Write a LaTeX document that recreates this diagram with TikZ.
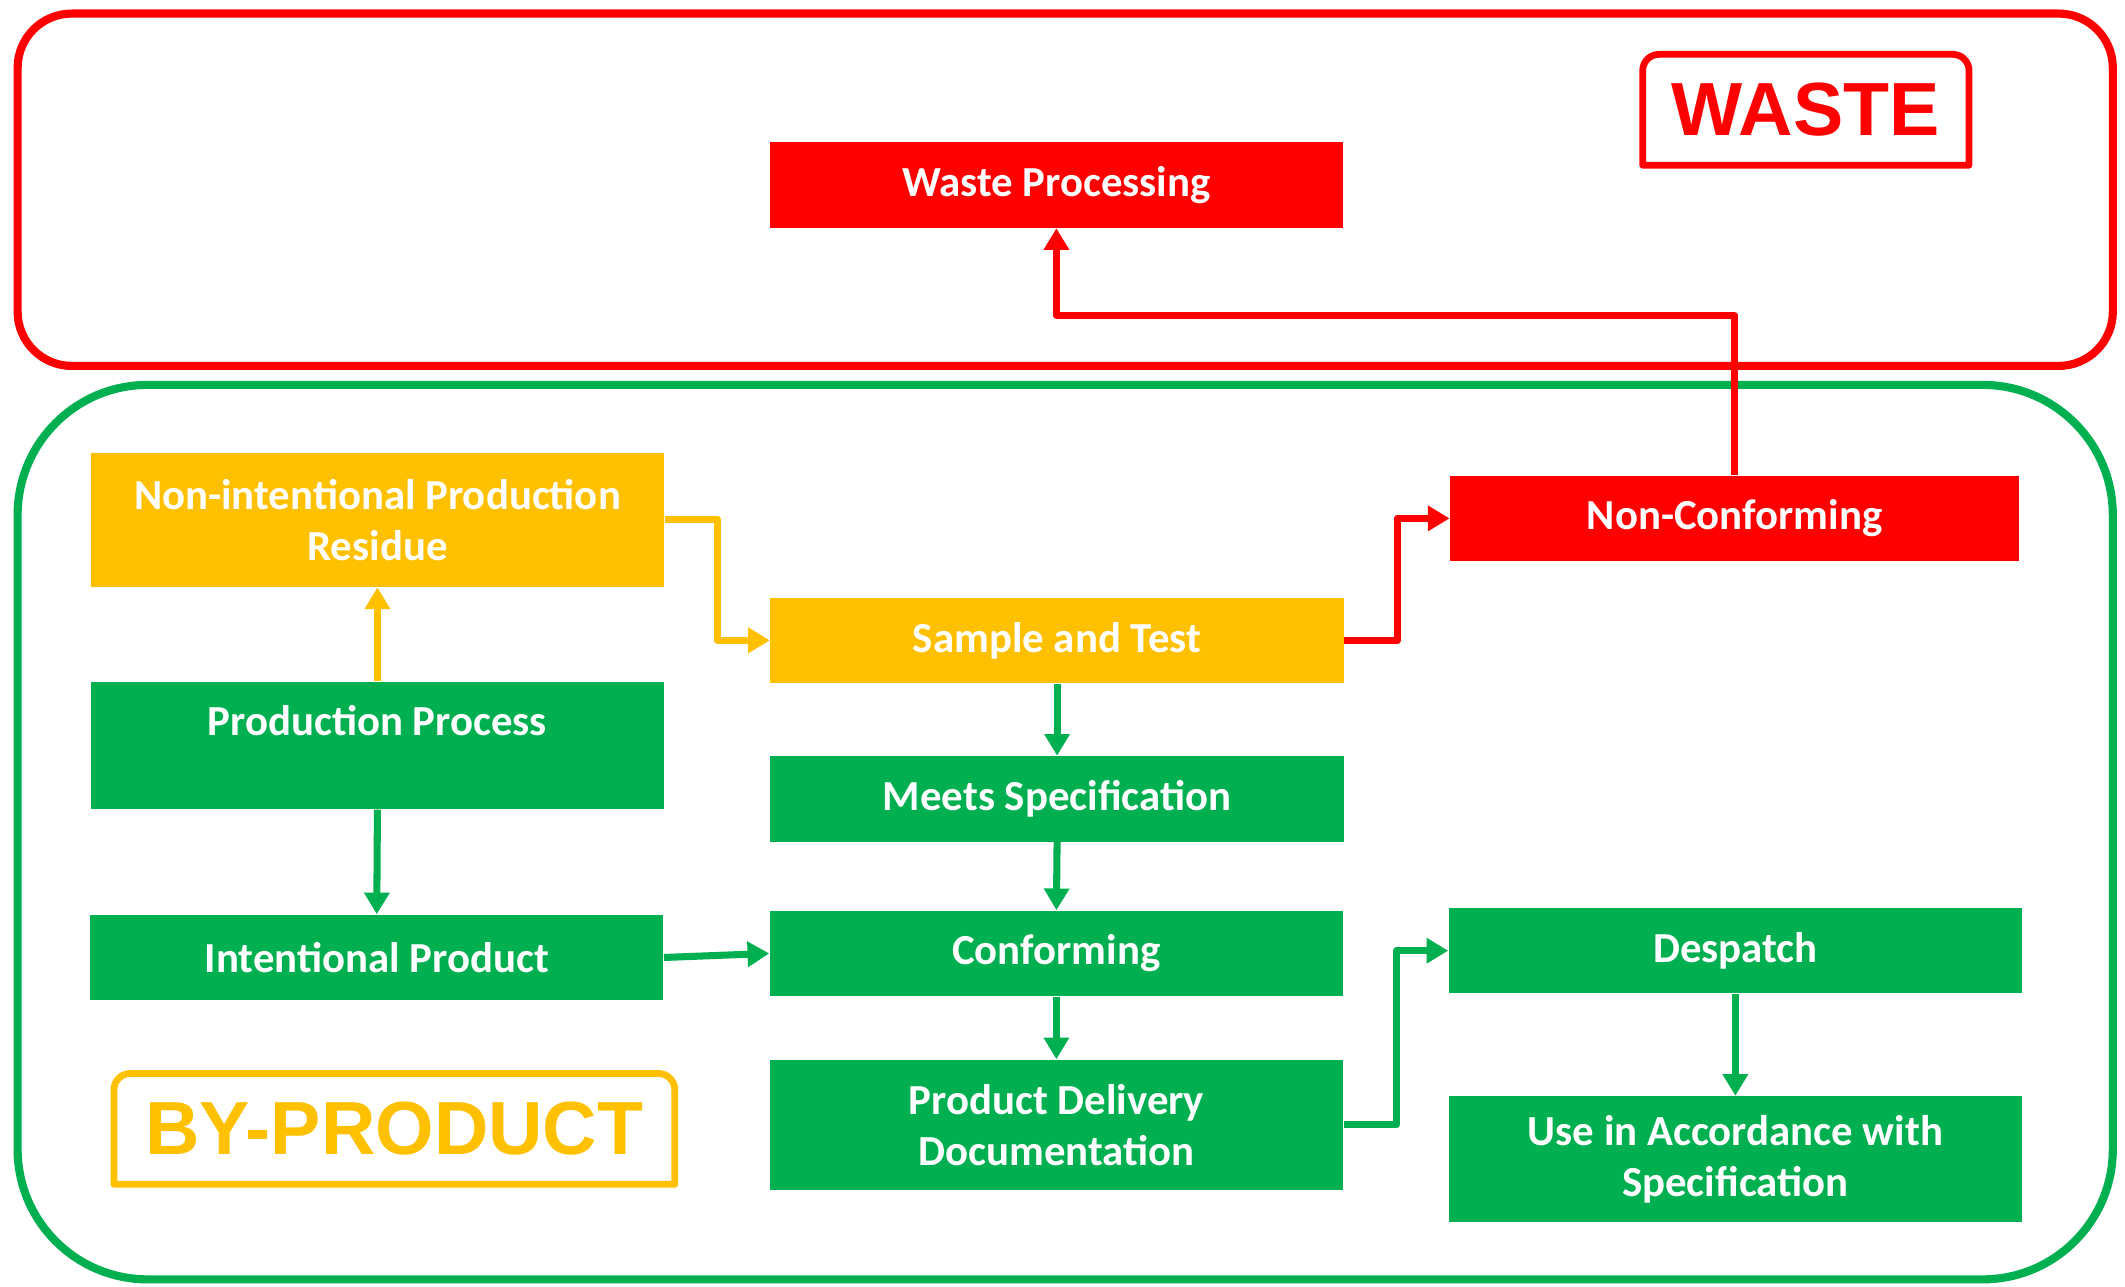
\documentclass[tikz,border=0pt]{standalone}
\usepackage{fontspec}
\setmainfont{Carlito}
\newfontfamily\tagfont{Liberation Sans}
\usetikzlibrary{arrows.meta}
\definecolor{wred}{HTML}{FF0000}
\definecolor{byel}{HTML}{FFC000}
\definecolor{bgreen}{HTML}{00B050}
\tikzset{
  box/.style={draw=none, inner sep=0pt, align=center, text=white,
    font=\fontsize{15.8}{18.75}\selectfont\bfseries,
    minimum width=211.5pt, minimum height=31.5pt},
  redbox/.style={box, fill=wred},
  yelbox/.style={box, fill=byel},
  grnbox/.style={box, fill=bgreen},
  conn/.style={line width=2.6pt, line join=round, -{Triangle[length=8pt,width=9pt]}},
  rconn/.style={conn, draw=wred},
  yconn/.style={conn, draw=byel},
  gconn/.style={conn, draw=bgreen},
  tagtext/.style={inner sep=0pt, font=\tagfont\bfseries\fontsize{27.8}{30}\selectfont},
  tagframe/.style={line width=2.5pt, line join=round}
}
\begin{document}
\begin{tikzpicture}[x=0.5pt, y=-0.5pt]
\useasboundingbox (0,0) rectangle (1568,949);
% outer areas
\draw[wred, line width=3pt, rounded corners=20pt] (13,10) rectangle (1559,270);
\draw[bgreen, line width=3pt, rounded corners=48pt] (13,284) rectangle (1559,944);

% tags
\node[tagtext, text=wred, minimum width=120pt, minimum height=40.5pt] (wastetag) at (1332.5,81) {WASTE};
\draw[tagframe, wred] (wastetag.south west) -- ([yshift=-6pt]wastetag.north west)
  arc[start angle=180, end angle=90, radius=6pt] -- ([xshift=-6pt]wastetag.north east)
  arc[start angle=90, end angle=0, radius=6pt] -- (wastetag.south east) -- cycle;
\node[tagtext, text=byel, minimum width=206.5pt, minimum height=40.5pt] (bytag) at (291,833) {BY-PRODUCT\hspace{10pt}};
\draw[tagframe, byel] (bytag.south west) -- ([yshift=-6pt]bytag.north west)
  arc[start angle=180, end angle=90, radius=6pt] -- ([xshift=-6pt]bytag.north east)
  arc[start angle=90, end angle=0, radius=6pt] -- (bytag.south east) -- cycle;

% boxes
\node[redbox] (wp) at (779.5,136.5) {Waste Processing};
\node[yelbox, minimum height=49.5pt] (nir) at (278.5,383.5) {Non-intentional Production\\Residue};
\node[yelbox] (st) at (780,472.5) {Sample and Test};
\node[redbox, minimum width=210pt] (nc) at (1280,382.5) {Non-Conforming};
\node[grnbox, minimum height=47pt] (pp) at (278.5,550) {Production Process\\\mbox{}};
\node[grnbox] (ms) at (780,589.5) {Meets Specification};
\node[grnbox] (ip) at (278,706.5) {Intentional Product};
\node[grnbox] (conf) at (779.5,703.5) {Conforming};
\node[grnbox] (desp) at (1280.5,701.5) {Despatch};
\node[grnbox, minimum height=48pt] (pdd) at (779.5,830) {Product Delivery\\Documentation};
\node[grnbox, minimum height=46.5pt] (use) at (1280.5,855.5) {Use in Accordance with\\Specification};

% connectors
\draw[yconn] (pp.north) -- (nir.south);
\draw[gconn] (pp.south) -- (ip.north);
\draw[gconn] (ip.east) -- (conf.west);
\draw[yconn] (nir.east) -- ++(19.5pt,0) |- (st.west);
\draw[rconn] (st.east) -- ++(19.5pt,0) |- (nc.west);
\draw[rconn] (nc.north) -- ++(0,59pt) -| (wp.south);
\draw[gconn] (st.south) -- (ms.north);
\draw[gconn] (ms.south) -- (conf.north);
\draw[gconn] (conf.south) -- (pdd.north);
\draw[gconn] (pdd.east) -- ++(19.5pt,0) |- (desp.west);
\draw[gconn] (desp.south) -- (use.north);
\end{tikzpicture}
\end{document}
